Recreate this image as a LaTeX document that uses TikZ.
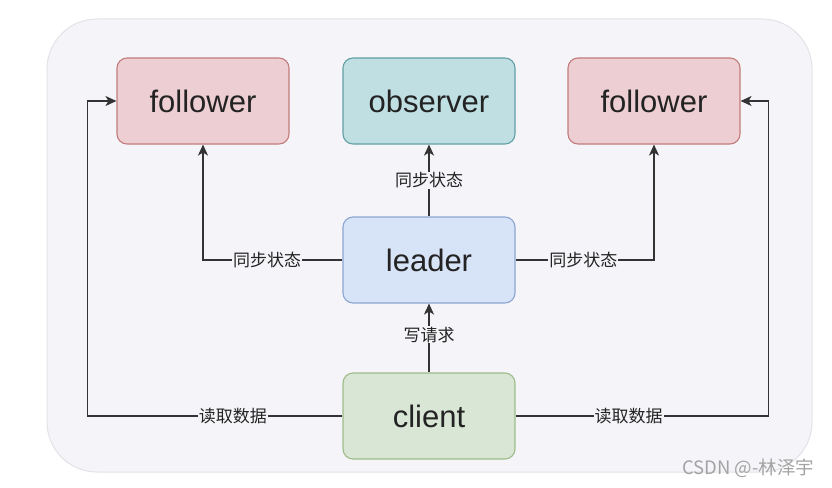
\documentclass[tikz,border=0pt]{standalone}
\usepackage{fontspec}
\setmainfont{Liberation Sans}
\newfontfamily\cjk{Noto Sans CJK SC}
\usetikzlibrary{arrows.meta}
\definecolor{bgfill}{HTML}{F5F5F9}
\definecolor{bgline}{HTML}{E2E2E7}
\definecolor{txt}{HTML}{232323}
\definecolor{line}{HTML}{333333}
\definecolor{flfill}{HTML}{EDCFD3}
\definecolor{flline}{HTML}{C27C7C}
\definecolor{obfill}{HTML}{BFDFE2}
\definecolor{obline}{HTML}{62A0A5}
\definecolor{ldfill}{HTML}{D7E3F6}
\definecolor{ldline}{HTML}{8CA6D2}
\definecolor{clfill}{HTML}{D9E6D6}
\definecolor{clline}{HTML}{9EBC8A}
\definecolor{mark}{HTML}{A3A3A3}

\begin{document}
\begin{tikzpicture}[x=1pt, y=-1pt,
    box/.style={draw, rounded corners=10pt, line width=1.1pt, minimum width=172pt, minimum height=86pt, font=\fontsize{31}{34}\selectfont, text=txt},
    link/.style={draw=line, line width=1.4pt, -{Stealth[length=11pt, width=10pt, inset=3pt]}},
    lbl/.style={fill=bgfill, inner sep=1pt, font=\cjk\fontsize{17}{19}\selectfont, text=txt}]
        \useasboundingbox (0,0) rectangle (832,487);
        \draw[fill=bgfill, draw=bgline, line width=1pt, rounded corners=50pt] (47,19) rectangle (812,472);

        % the five servers and the client
        \node[box, fill=flfill, draw=flline] (fl) at (203,101) {follower};
        \node[box, fill=obfill, draw=obline] (ob) at (429,101) {observer};
        \node[box, fill=flfill, draw=flline] (fr) at (654,101) {follower};
        \node[box, fill=ldfill, draw=ldline] (ld) at (429,260) {leader};
        \node[box, fill=clfill, draw=clline] (cl) at (429,416) {client};

        % leader syncs its state
        \draw[link] (ld.west) -| node[lbl, pos=.27] {同步状态} (fl.south);
        \draw[link] (ld.north) -- node[lbl] {同步状态} (ob.south);
        \draw[link] (ld.east) -| node[lbl, pos=.245] {同步状态} (fr.south);

        % client requests
        \draw[link] (cl.north) -- node[lbl, pos=.55] {写请求} (ld.south);
        \draw[link] (cl.west) -- node[lbl, pos=.43] {读取数据} ++(-255,0) |- (fl.west);
        \draw[link] (cl.east) -- node[lbl, pos=.447] {读取数据} ++(253,0) |- (fr.east);

        \node[font=\cjk\fontsize{18.5}{20}\selectfont, text=mark, inner sep=0pt] (wm) at (748,468) {CSDN @-林泽宇};
    \end{tikzpicture}
\end{document}
